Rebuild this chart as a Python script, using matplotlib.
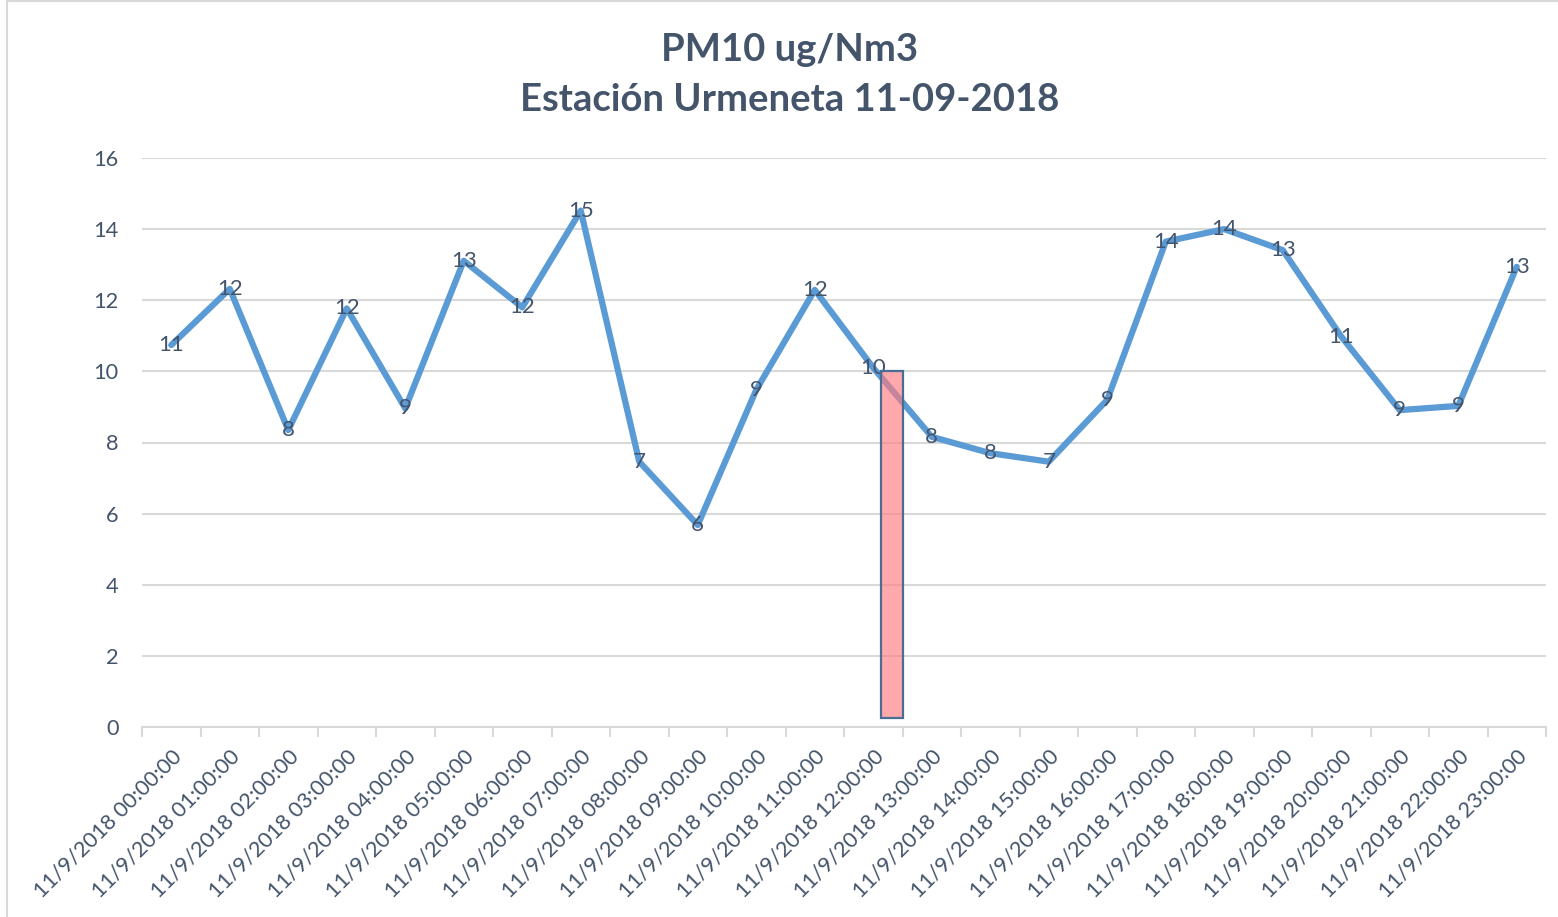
import numpy as np
import matplotlib
matplotlib.use('Agg')
from matplotlib import pyplot as plt
from matplotlib.patches import Rectangle
from matplotlib.lines import Line2D

# hourly PM10 values
hours = ['11/9/2018 %02d:00:00' % h for h in range(24)]
pm10 = [10.74, 12.32, 8.35, 11.77, 8.96, 13.11, 11.8, 14.52,
        7.46, 5.68, 9.48, 12.29, 10.1, 8.16, 7.7, 7.46,
        9.2, 13.65, 14.0, 13.41, 10.98, 8.91, 9.03, 12.94]

# highlight box next to the 12:00 point
box_x = [12.14, 12.5]
box_y = [0.25, 10.0]

title = 'PM10 ug/Nm3\nEstación Urmeneta 11-09-2018'

W, H = 1558, 917
txt_col = '#44546A'
grid_col = '#D9D9D9'
plt.rcParams['font.family'] = ['Lato', 'DejaVu Sans']

fig = plt.figure(figsize=(W/100, H/100), dpi=100)
ax = fig.add_axes([142/W, 1-727/H, (1546-142)/W, (727-158)/H])

x = np.arange(len(pm10))
ax.plot(x, pm10, color='#5B9BD5', lw=4.5, solid_joinstyle='round',
        solid_capstyle='round', zorder=3)

for xi, v in zip(x, pm10):
    ax.text(xi, v, '%d' % round(v), ha='center', va='center',
            fontsize=16, color=txt_col, zorder=4)

ax.add_patch(Rectangle((box_x[0], box_y[0]), box_x[1]-box_x[0], box_y[1]-box_y[0],
                       facecolor=(1.0, 0.486, 0.5, 0.65), edgecolor='#4A6D94',
                       lw=1.6, zorder=5))

ax.set_xlim(-0.5, len(pm10)-0.5)
ax.set_ylim(0, 16)
ax.set_yticks(range(0, 17, 2))
ax.yaxis.grid(True, color=grid_col, lw=1.5)
ax.set_axisbelow(True)
for s in ['top', 'right', 'left']:
    ax.spines[s].set_visible(False)
ax.spines['bottom'].set_color(grid_col)
ax.spines['bottom'].set_linewidth(1.5)

ax.set_xticks(x)
ax.set_xticklabels(hours, rotation=45, ha='right', rotation_mode='anchor',
                   fontsize=15.7, color=txt_col)
ax.tick_params(axis='x', length=0, pad=14)
ax.set_xticks(np.arange(-0.5, len(pm10), 1), minor=True)
ax.tick_params(axis='x', which='minor', length=7, width=1.5, color=grid_col)
ax.tick_params(axis='y', length=0, pad=17, labelsize=15.7, labelcolor=txt_col)

fig.text(0.507, 1-75/H, title, ha='center', va='center', fontsize=27.5,
         fontweight='bold', color=txt_col, linespacing=1.6)

# light chart frame
fig.add_artist(Line2D([7/W, 7/W], [0, 1-1/H], color=grid_col, lw=1.5))
fig.add_artist(Line2D([7/W, 1], [1-1/H, 1-1/H], color=grid_col, lw=1.5))

fig.savefig('out.png', dpi=100)
